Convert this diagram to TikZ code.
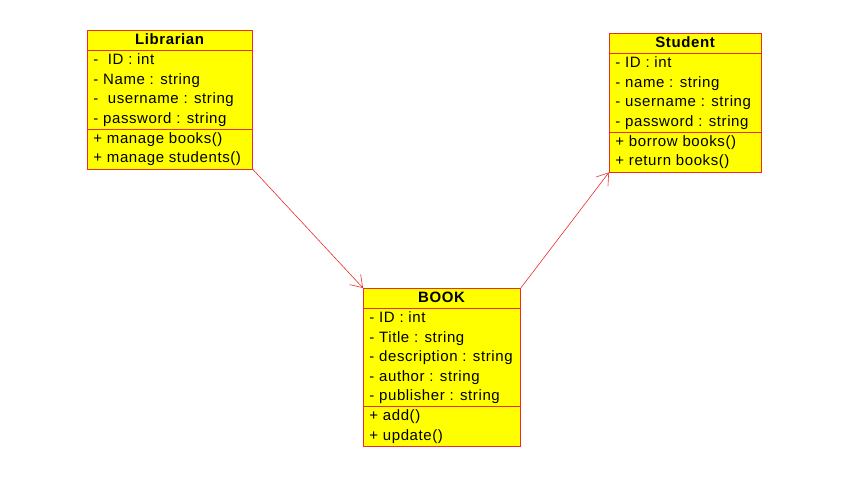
\documentclass[tikz,border=0pt]{standalone}
\usepackage{fontspec}
\usetikzlibrary{shapes.multipart,arrows.meta,positioning}
\newfontfamily\umlfont[LetterSpace=4]{Liberation Sans}
\definecolor{classred}{RGB}{235,45,45}
\definecolor{classyellow}{RGB}{255,255,0}
\tikzset{
  umlclass/.style={rectangle split, rectangle split parts=3,
    rectangle split part align={center,left,left},
    draw=classred, fill=classyellow, line width=0.8pt,
    inner xsep=6pt, inner ysep=0pt, minimum width=#1,
    font=\umlfont\fontsize{15}{19.45}\selectfont},
  assoc/.style={draw=classred, line width=0.6pt,
    -{Straight Barb[length=11pt,width=15pt]}}
}
\newcommand{\umlrows}[1]{\begin{tabular}{@{}l@{}}#1\end{tabular}}

\begin{document}
\begin{tikzpicture}[x=1pt,y=-1pt]
% Page frame.
\fill[white] (0,0) rectangle (845,490);
\useasboundingbox (0,0) rectangle (845,490);

% Draw classes.
\node[umlclass=165pt, anchor=north west] (librarian) at (87,30)
{\textbf{Librarian}\strut
 \nodepart{second}\umlrows{- \ ID : int\\- Name : string\\- \ username : string\\- password : string}
 \nodepart{third}\umlrows{+ manage books()\\+ manage students()}};

\node[umlclass=152pt, anchor=north west] (student) at (609,33)
{\textbf{Student}\strut
 \nodepart{second}\umlrows{- ID : int\\- name : string\\- username : string\\- password : string}
 \nodepart{third}\umlrows{+ borrow books()\\+ return books()}};

\node[umlclass=157pt, anchor=north west] (book) at (363,288)
{\textbf{BOOK}\strut
 \nodepart{second}\umlrows{- ID : int\\- Title : string\\- description : string\\- author : string\\- publisher : string}
 \nodepart{third}\umlrows{+ add()\\+ update()}};

% Draw associations.
\draw[assoc] (librarian.south east) -- (book.north west);
\draw[assoc] (book.north east) -- (student.south west);
\end{tikzpicture}
\end{document}
